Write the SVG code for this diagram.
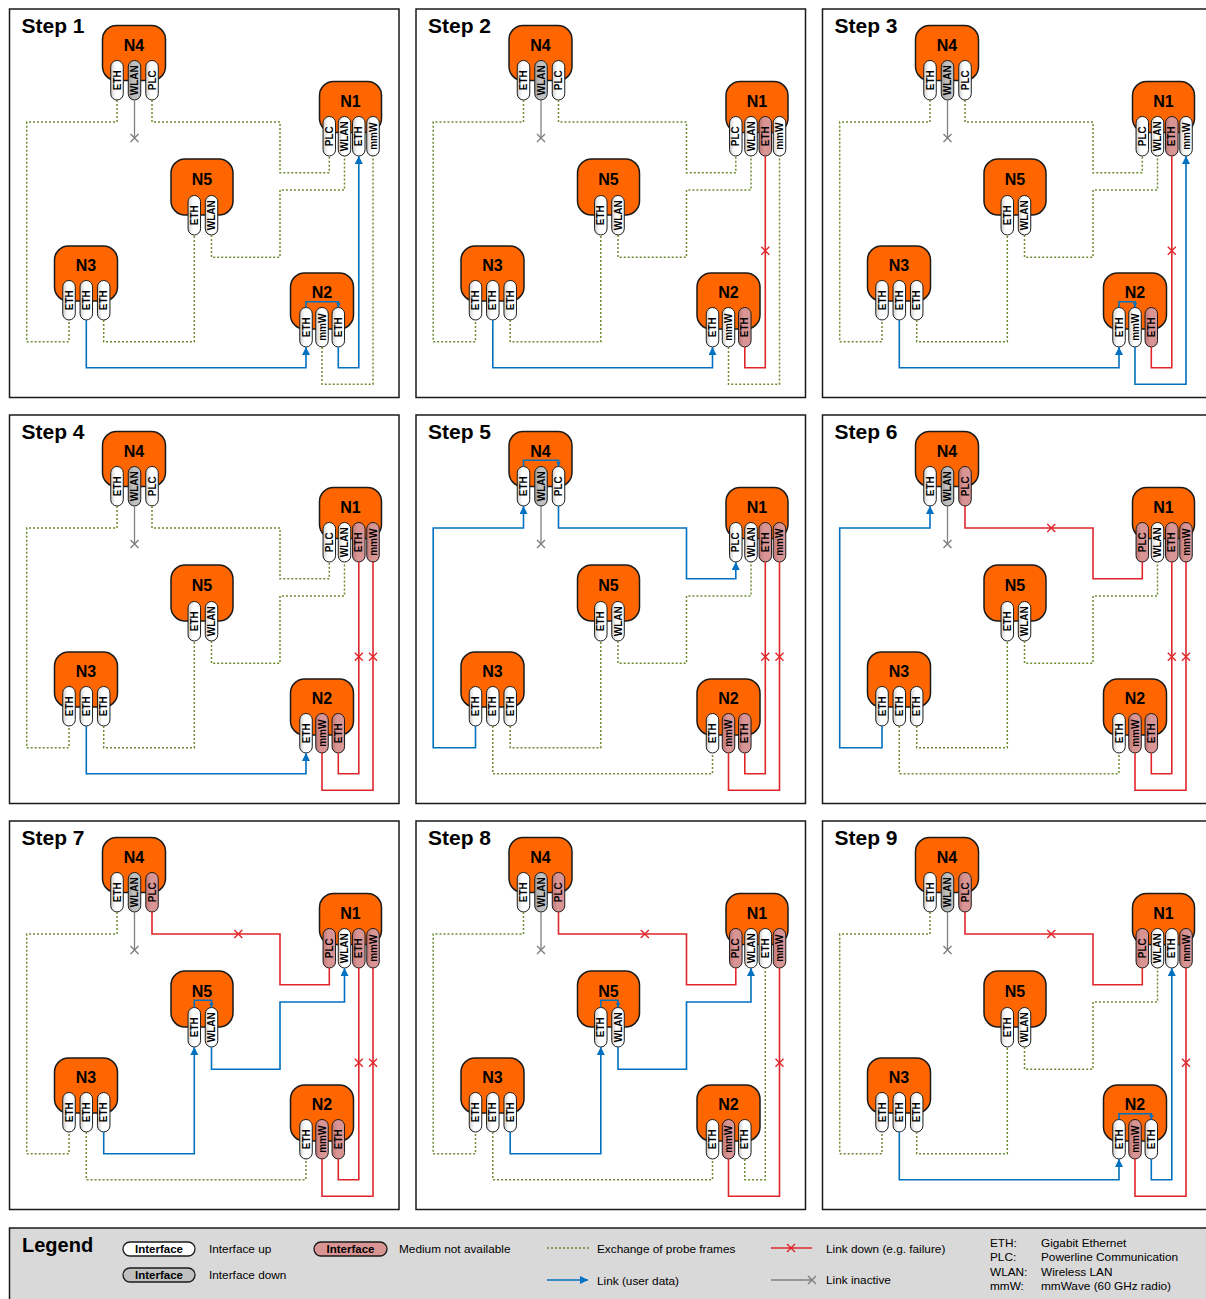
<svg xmlns="http://www.w3.org/2000/svg" xmlns:xlink="http://www.w3.org/1999/xlink" width="1206" height="1299" viewBox="0 0 1206 1299">
<style>
.pn{fill:#fff;stroke:#1a1a1a;stroke-width:1.5}
.st{font:bold 21px "Liberation Sans",Arial,sans-serif;fill:#000}
.bx{fill:#FF6600;stroke:#1a1a1a;stroke-width:1.5}
.nl{font:bold 16px "Liberation Sans",Arial,sans-serif;text-anchor:middle;fill:#000}
.pw{fill:url(#gW);stroke:#1a1a1a;stroke-width:1}
.pp{fill:url(#gP);stroke:#1a1a1a;stroke-width:1}
.pg{fill:url(#gG);stroke:#1a1a1a;stroke-width:1}
.pt{font:bold 10px "Liberation Sans",Arial,sans-serif;text-anchor:middle;fill:#000}
.dot{fill:none;stroke:#6E8B30;stroke-width:1.5;stroke-dasharray:2 2}
.blu{fill:none;stroke:#0070C0;stroke-width:1.6}
.red{fill:none;stroke:#E0262B;stroke-width:1.6}
.gry{fill:none;stroke:#7F7F7F;stroke-width:1.3}
.xr{stroke:#E0262B;stroke-width:1.4;fill:none}
.xg{stroke:#7F7F7F;stroke-width:1.4;fill:none}
.lg{fill:#D9D9D9;stroke:#1a1a1a;stroke-width:1.5}
.lt{font:11.8px "Liberation Sans",Arial,sans-serif;fill:#000}
.lb{font:bold 11.5px "Liberation Sans",Arial,sans-serif;text-anchor:middle;fill:#000}
.lp{stroke:#1a1a1a;stroke-width:1.3}
</style>
<defs>
<linearGradient id="gW" x1="0" y1="0" x2="1" y2="0"><stop offset="0" stop-color="#cfcfcf"/><stop offset="0.4" stop-color="#fff"/><stop offset="1" stop-color="#fff"/></linearGradient>
<linearGradient id="gP" x1="0" y1="0" x2="1" y2="0"><stop offset="0" stop-color="#bb7876"/><stop offset="0.4" stop-color="#D99594"/><stop offset="1" stop-color="#D99594"/></linearGradient>
<linearGradient id="gG" x1="0" y1="0" x2="1" y2="0"><stop offset="0" stop-color="#9d9d9d"/><stop offset="0.4" stop-color="#c0c0c0"/><stop offset="1" stop-color="#c0c0c0"/></linearGradient>
<marker id="ab" markerUnits="userSpaceOnUse" markerWidth="9" markerHeight="9" refX="8" refY="4" orient="auto"><path d="M0,0 L8,4 L0,8 z" fill="#0070C0"/></marker>
<marker id="as" markerUnits="userSpaceOnUse" markerWidth="6" markerHeight="6" refX="5" refY="2.5" orient="auto"><path d="M0,0 L5,2.5 L0,5 z" fill="#0070C0"/></marker>
<path id="xx" d="M-4,-4 L4,4 M-4,4 L4,-4"/>
</defs>

<!-- STEP 1 -->
<g id="step1">
<rect class="pn" x="9.5" y="9" width="389.5" height="388.5"/>
<text class="st" x="21.5" y="33">Step 1</text>
<g id="s1-n4"><rect class="bx" x="102.5" y="25.5" width="63" height="55" rx="14"/><text class="nl" x="134" y="50.5">N4</text>
<rect class="pw" x="110.75" y="60.5" width="12.5" height="39.5" rx="6.25"/><text class="pt" transform="translate(117,80.25) rotate(-90)" y="3.6">ETH</text>
<rect class="pg" x="128.25" y="60.5" width="12.5" height="39.5" rx="6.25"/><text class="pt" transform="translate(134.5,80.25) rotate(-90)" y="3.6">WLAN</text>
<rect class="pw" x="145.75" y="60.5" width="12.5" height="39.5" rx="6.25"/><text class="pt" transform="translate(152,80.25) rotate(-90)" y="3.6">PLC</text></g>
<g id="s1-n1"><rect class="bx" x="319.5" y="81.5" width="62" height="51" rx="14"/><text class="nl" x="350.5" y="106.5">N1</text>
<rect class="pw" x="323.05" y="116.5" width="12.5" height="39.5" rx="6.25"/><text class="pt" transform="translate(329.3,136.25) rotate(-90)" y="3.6">PLC</text>
<rect class="pw" x="338.25" y="116.5" width="12.5" height="39.5" rx="6.25"/><text class="pt" transform="translate(344.5,136.25) rotate(-90)" y="3.6">WLAN</text>
<rect class="pw" x="352.55" y="116.5" width="12.5" height="39.5" rx="6.25"/><text class="pt" transform="translate(358.8,136.25) rotate(-90)" y="3.6">ETH</text>
<rect class="pw" x="366.75" y="116.5" width="12.5" height="39.5" rx="6.25"/><text class="pt" transform="translate(373,136.25) rotate(-90)" y="3.6">mmW</text></g>
<g id="s1-n5"><rect class="bx" x="171" y="159" width="62" height="56" rx="14"/><text class="nl" x="202" y="185">N5</text>
<rect class="pw" x="188.05" y="195.5" width="12.5" height="39.5" rx="6.25"/><text class="pt" transform="translate(194.3,215.25) rotate(-90)" y="3.6">ETH</text>
<rect class="pw" x="205.25" y="195.5" width="12.5" height="39.5" rx="6.25"/><text class="pt" transform="translate(211.5,215.25) rotate(-90)" y="3.6">WLAN</text></g>
<g id="s1-n3"><rect class="bx" x="54.5" y="246" width="63" height="55" rx="14"/><text class="nl" x="86" y="271">N3</text>
<rect class="pw" x="62.75" y="280.5" width="12.5" height="39.5" rx="6.25"/><text class="pt" transform="translate(69,300.25) rotate(-90)" y="3.6">ETH</text>
<rect class="pw" x="80.05" y="280.5" width="12.5" height="39.5" rx="6.25"/><text class="pt" transform="translate(86.3,300.25) rotate(-90)" y="3.6">ETH</text>
<rect class="pw" x="97.45" y="280.5" width="12.5" height="39.5" rx="6.25"/><text class="pt" transform="translate(103.7,300.25) rotate(-90)" y="3.6">ETH</text></g>
<g id="s1-n2"><rect class="bx" x="290.5" y="273" width="63" height="56" rx="14"/><text class="nl" x="322" y="298">N2</text>
<rect class="pw" x="299.75" y="307.5" width="12.5" height="39.5" rx="6.25"/><text class="pt" transform="translate(306,327.25) rotate(-90)" y="3.6">ETH</text>
<rect class="pw" x="315.75" y="307.5" width="12.5" height="39.5" rx="6.25"/><text class="pt" transform="translate(322,327.25) rotate(-90)" y="3.6">mmW</text>
<rect class="pw" x="332.05" y="307.5" width="12.5" height="39.5" rx="6.25"/><text class="pt" transform="translate(338.3,327.25) rotate(-90)" y="3.6">ETH</text></g>
<g id="s1-links">
<path class="dot" d="M117,100 V122 H26.7 V341.7 H69 V320"/>
<path class="dot" d="M152,100 V122 H280 V172.7 H329.3 V156"/>
<path class="dot" d="M103.7,320 V341.7 H194.3 V235"/>
<path class="dot" d="M211.5,235 V257.3 H280 V190 H344.5 V156"/>
<path class="blu" d="M86.3,320 V367.7 H306 V347" marker-end="url(#ab)"/>
<path class="blu" d="M338.3,347 V367.7 H358.8 V156" marker-end="url(#ab)"/>
<path class="dot" d="M322,347 V384.3 H373 V156"/>
<path class="gry" d="M134.5,100 V138"/><use href="#xx" class="xg" x="134.5" y="138"/>
<path class="blu" d="M306,307.5 V301.7 H338.3 V307.5" marker-end="url(#as)"/>
</g>
</g>

<!-- STEP 2 -->
<g id="step2" transform="translate(406.5,0)">
<rect class="pn" x="9.5" y="9" width="389.5" height="388.5"/>
<text class="st" x="21.5" y="33">Step 2</text>
<g id="s2-n4"><rect class="bx" x="102.5" y="25.5" width="63" height="55" rx="14"/><text class="nl" x="134" y="50.5">N4</text>
<rect class="pw" x="110.75" y="60.5" width="12.5" height="39.5" rx="6.25"/><text class="pt" transform="translate(117,80.25) rotate(-90)" y="3.6">ETH</text>
<rect class="pg" x="128.25" y="60.5" width="12.5" height="39.5" rx="6.25"/><text class="pt" transform="translate(134.5,80.25) rotate(-90)" y="3.6">WLAN</text>
<rect class="pw" x="145.75" y="60.5" width="12.5" height="39.5" rx="6.25"/><text class="pt" transform="translate(152,80.25) rotate(-90)" y="3.6">PLC</text></g>
<g id="s2-n1"><rect class="bx" x="319.5" y="81.5" width="62" height="51" rx="14"/><text class="nl" x="350.5" y="106.5">N1</text>
<rect class="pw" x="323.05" y="116.5" width="12.5" height="39.5" rx="6.25"/><text class="pt" transform="translate(329.3,136.25) rotate(-90)" y="3.6">PLC</text>
<rect class="pw" x="338.25" y="116.5" width="12.5" height="39.5" rx="6.25"/><text class="pt" transform="translate(344.5,136.25) rotate(-90)" y="3.6">WLAN</text>
<rect class="pp" x="352.55" y="116.5" width="12.5" height="39.5" rx="6.25"/><text class="pt" transform="translate(358.8,136.25) rotate(-90)" y="3.6">ETH</text>
<rect class="pw" x="366.75" y="116.5" width="12.5" height="39.5" rx="6.25"/><text class="pt" transform="translate(373,136.25) rotate(-90)" y="3.6">mmW</text></g>
<g id="s2-n5"><rect class="bx" x="171" y="159" width="62" height="56" rx="14"/><text class="nl" x="202" y="185">N5</text>
<rect class="pw" x="188.05" y="195.5" width="12.5" height="39.5" rx="6.25"/><text class="pt" transform="translate(194.3,215.25) rotate(-90)" y="3.6">ETH</text>
<rect class="pw" x="205.25" y="195.5" width="12.5" height="39.5" rx="6.25"/><text class="pt" transform="translate(211.5,215.25) rotate(-90)" y="3.6">WLAN</text></g>
<g id="s2-n3"><rect class="bx" x="54.5" y="246" width="63" height="55" rx="14"/><text class="nl" x="86" y="271">N3</text>
<rect class="pw" x="62.75" y="280.5" width="12.5" height="39.5" rx="6.25"/><text class="pt" transform="translate(69,300.25) rotate(-90)" y="3.6">ETH</text>
<rect class="pw" x="80.05" y="280.5" width="12.5" height="39.5" rx="6.25"/><text class="pt" transform="translate(86.3,300.25) rotate(-90)" y="3.6">ETH</text>
<rect class="pw" x="97.45" y="280.5" width="12.5" height="39.5" rx="6.25"/><text class="pt" transform="translate(103.7,300.25) rotate(-90)" y="3.6">ETH</text></g>
<g id="s2-n2"><rect class="bx" x="290.5" y="273" width="63" height="56" rx="14"/><text class="nl" x="322" y="298">N2</text>
<rect class="pw" x="299.75" y="307.5" width="12.5" height="39.5" rx="6.25"/><text class="pt" transform="translate(306,327.25) rotate(-90)" y="3.6">ETH</text>
<rect class="pw" x="315.75" y="307.5" width="12.5" height="39.5" rx="6.25"/><text class="pt" transform="translate(322,327.25) rotate(-90)" y="3.6">mmW</text>
<rect class="pp" x="332.05" y="307.5" width="12.5" height="39.5" rx="6.25"/><text class="pt" transform="translate(338.3,327.25) rotate(-90)" y="3.6">ETH</text></g>
<g id="s2-links">
<path class="dot" d="M117,100 V122 H26.7 V341.7 H69 V320"/>
<path class="dot" d="M152,100 V122 H280 V172.7 H329.3 V156"/>
<path class="dot" d="M103.7,320 V341.7 H194.3 V235"/>
<path class="dot" d="M211.5,235 V257.3 H280 V190 H344.5 V156"/>
<path class="blu" d="M86.3,320 V367.7 H306 V347" marker-end="url(#ab)"/>
<path class="red" d="M338.3,347 V367.7 H358.8 V156"/><use href="#xx" class="xr" x="358.8" y="250.7"/>
<path class="dot" d="M322,347 V384.3 H373 V156"/>
<path class="gry" d="M134.5,100 V138"/><use href="#xx" class="xg" x="134.5" y="138"/>
</g>
</g>

<!-- STEP 3 -->
<g id="step3" transform="translate(813,0)">
<rect class="pn" x="9.5" y="9" width="389.5" height="388.5"/>
<text class="st" x="21.5" y="33">Step 3</text>
<g id="s3-n4"><rect class="bx" x="102.5" y="25.5" width="63" height="55" rx="14"/><text class="nl" x="134" y="50.5">N4</text>
<rect class="pw" x="110.75" y="60.5" width="12.5" height="39.5" rx="6.25"/><text class="pt" transform="translate(117,80.25) rotate(-90)" y="3.6">ETH</text>
<rect class="pg" x="128.25" y="60.5" width="12.5" height="39.5" rx="6.25"/><text class="pt" transform="translate(134.5,80.25) rotate(-90)" y="3.6">WLAN</text>
<rect class="pw" x="145.75" y="60.5" width="12.5" height="39.5" rx="6.25"/><text class="pt" transform="translate(152,80.25) rotate(-90)" y="3.6">PLC</text></g>
<g id="s3-n1"><rect class="bx" x="319.5" y="81.5" width="62" height="51" rx="14"/><text class="nl" x="350.5" y="106.5">N1</text>
<rect class="pw" x="323.05" y="116.5" width="12.5" height="39.5" rx="6.25"/><text class="pt" transform="translate(329.3,136.25) rotate(-90)" y="3.6">PLC</text>
<rect class="pw" x="338.25" y="116.5" width="12.5" height="39.5" rx="6.25"/><text class="pt" transform="translate(344.5,136.25) rotate(-90)" y="3.6">WLAN</text>
<rect class="pp" x="352.55" y="116.5" width="12.5" height="39.5" rx="6.25"/><text class="pt" transform="translate(358.8,136.25) rotate(-90)" y="3.6">ETH</text>
<rect class="pw" x="366.75" y="116.5" width="12.5" height="39.5" rx="6.25"/><text class="pt" transform="translate(373,136.25) rotate(-90)" y="3.6">mmW</text></g>
<g id="s3-n5"><rect class="bx" x="171" y="159" width="62" height="56" rx="14"/><text class="nl" x="202" y="185">N5</text>
<rect class="pw" x="188.05" y="195.5" width="12.5" height="39.5" rx="6.25"/><text class="pt" transform="translate(194.3,215.25) rotate(-90)" y="3.6">ETH</text>
<rect class="pw" x="205.25" y="195.5" width="12.5" height="39.5" rx="6.25"/><text class="pt" transform="translate(211.5,215.25) rotate(-90)" y="3.6">WLAN</text></g>
<g id="s3-n3"><rect class="bx" x="54.5" y="246" width="63" height="55" rx="14"/><text class="nl" x="86" y="271">N3</text>
<rect class="pw" x="62.75" y="280.5" width="12.5" height="39.5" rx="6.25"/><text class="pt" transform="translate(69,300.25) rotate(-90)" y="3.6">ETH</text>
<rect class="pw" x="80.05" y="280.5" width="12.5" height="39.5" rx="6.25"/><text class="pt" transform="translate(86.3,300.25) rotate(-90)" y="3.6">ETH</text>
<rect class="pw" x="97.45" y="280.5" width="12.5" height="39.5" rx="6.25"/><text class="pt" transform="translate(103.7,300.25) rotate(-90)" y="3.6">ETH</text></g>
<g id="s3-n2"><rect class="bx" x="290.5" y="273" width="63" height="56" rx="14"/><text class="nl" x="322" y="298">N2</text>
<rect class="pw" x="299.75" y="307.5" width="12.5" height="39.5" rx="6.25"/><text class="pt" transform="translate(306,327.25) rotate(-90)" y="3.6">ETH</text>
<rect class="pw" x="315.75" y="307.5" width="12.5" height="39.5" rx="6.25"/><text class="pt" transform="translate(322,327.25) rotate(-90)" y="3.6">mmW</text>
<rect class="pp" x="332.05" y="307.5" width="12.5" height="39.5" rx="6.25"/><text class="pt" transform="translate(338.3,327.25) rotate(-90)" y="3.6">ETH</text></g>
<g id="s3-links">
<path class="dot" d="M117,100 V122 H26.7 V341.7 H69 V320"/>
<path class="dot" d="M152,100 V122 H280 V172.7 H329.3 V156"/>
<path class="dot" d="M103.7,320 V341.7 H194.3 V235"/>
<path class="dot" d="M211.5,235 V257.3 H280 V190 H344.5 V156"/>
<path class="blu" d="M86.3,320 V367.7 H306 V347" marker-end="url(#ab)"/>
<path class="red" d="M338.3,347 V367.7 H358.8 V156"/><use href="#xx" class="xr" x="358.8" y="250.7"/>
<path class="blu" d="M322,347 V384.3 H373 V156" marker-end="url(#ab)"/>
<path class="gry" d="M134.5,100 V138"/><use href="#xx" class="xg" x="134.5" y="138"/>
<path class="blu" d="M306,307.5 V301.7 H322 V307.5" marker-end="url(#as)"/>
</g>
</g>

<!-- STEP 4 -->
<g id="step4" transform="translate(0,406)">
<rect class="pn" x="9.5" y="9" width="389.5" height="388.5"/>
<text class="st" x="21.5" y="33">Step 4</text>
<g id="s4-n4"><rect class="bx" x="102.5" y="25.5" width="63" height="55" rx="14"/><text class="nl" x="134" y="50.5">N4</text>
<rect class="pw" x="110.75" y="60.5" width="12.5" height="39.5" rx="6.25"/><text class="pt" transform="translate(117,80.25) rotate(-90)" y="3.6">ETH</text>
<rect class="pg" x="128.25" y="60.5" width="12.5" height="39.5" rx="6.25"/><text class="pt" transform="translate(134.5,80.25) rotate(-90)" y="3.6">WLAN</text>
<rect class="pw" x="145.75" y="60.5" width="12.5" height="39.5" rx="6.25"/><text class="pt" transform="translate(152,80.25) rotate(-90)" y="3.6">PLC</text></g>
<g id="s4-n1"><rect class="bx" x="319.5" y="81.5" width="62" height="51" rx="14"/><text class="nl" x="350.5" y="106.5">N1</text>
<rect class="pw" x="323.05" y="116.5" width="12.5" height="39.5" rx="6.25"/><text class="pt" transform="translate(329.3,136.25) rotate(-90)" y="3.6">PLC</text>
<rect class="pw" x="338.25" y="116.5" width="12.5" height="39.5" rx="6.25"/><text class="pt" transform="translate(344.5,136.25) rotate(-90)" y="3.6">WLAN</text>
<rect class="pp" x="352.55" y="116.5" width="12.5" height="39.5" rx="6.25"/><text class="pt" transform="translate(358.8,136.25) rotate(-90)" y="3.6">ETH</text>
<rect class="pp" x="366.75" y="116.5" width="12.5" height="39.5" rx="6.25"/><text class="pt" transform="translate(373,136.25) rotate(-90)" y="3.6">mmW</text></g>
<g id="s4-n5"><rect class="bx" x="171" y="159" width="62" height="56" rx="14"/><text class="nl" x="202" y="185">N5</text>
<rect class="pw" x="188.05" y="195.5" width="12.5" height="39.5" rx="6.25"/><text class="pt" transform="translate(194.3,215.25) rotate(-90)" y="3.6">ETH</text>
<rect class="pw" x="205.25" y="195.5" width="12.5" height="39.5" rx="6.25"/><text class="pt" transform="translate(211.5,215.25) rotate(-90)" y="3.6">WLAN</text></g>
<g id="s4-n3"><rect class="bx" x="54.5" y="246" width="63" height="55" rx="14"/><text class="nl" x="86" y="271">N3</text>
<rect class="pw" x="62.75" y="280.5" width="12.5" height="39.5" rx="6.25"/><text class="pt" transform="translate(69,300.25) rotate(-90)" y="3.6">ETH</text>
<rect class="pw" x="80.05" y="280.5" width="12.5" height="39.5" rx="6.25"/><text class="pt" transform="translate(86.3,300.25) rotate(-90)" y="3.6">ETH</text>
<rect class="pw" x="97.45" y="280.5" width="12.5" height="39.5" rx="6.25"/><text class="pt" transform="translate(103.7,300.25) rotate(-90)" y="3.6">ETH</text></g>
<g id="s4-n2"><rect class="bx" x="290.5" y="273" width="63" height="56" rx="14"/><text class="nl" x="322" y="298">N2</text>
<rect class="pw" x="299.75" y="307.5" width="12.5" height="39.5" rx="6.25"/><text class="pt" transform="translate(306,327.25) rotate(-90)" y="3.6">ETH</text>
<rect class="pp" x="315.75" y="307.5" width="12.5" height="39.5" rx="6.25"/><text class="pt" transform="translate(322,327.25) rotate(-90)" y="3.6">mmW</text>
<rect class="pp" x="332.05" y="307.5" width="12.5" height="39.5" rx="6.25"/><text class="pt" transform="translate(338.3,327.25) rotate(-90)" y="3.6">ETH</text></g>
<g id="s4-links">
<path class="dot" d="M117,100 V122 H26.7 V341.7 H69 V320"/>
<path class="dot" d="M152,100 V122 H280 V172.7 H329.3 V156"/>
<path class="dot" d="M103.7,320 V341.7 H194.3 V235"/>
<path class="dot" d="M211.5,235 V257.3 H280 V190 H344.5 V156"/>
<path class="blu" d="M86.3,320 V367.7 H306 V347" marker-end="url(#ab)"/>
<path class="red" d="M338.3,347 V367.7 H358.8 V156"/><use href="#xx" class="xr" x="358.8" y="250.7"/>
<path class="red" d="M322,347 V384.3 H373 V156"/><use href="#xx" class="xr" x="373" y="250.7"/>
<path class="gry" d="M134.5,100 V138"/><use href="#xx" class="xg" x="134.5" y="138"/>
</g>
</g>

<!-- STEP 5 -->
<g id="step5" transform="translate(406.5,406)">
<rect class="pn" x="9.5" y="9" width="389.5" height="388.5"/>
<text class="st" x="21.5" y="33">Step 5</text>
<g id="s5-n4"><rect class="bx" x="102.5" y="25.5" width="63" height="55" rx="14"/><text class="nl" x="134" y="50.5">N4</text>
<rect class="pw" x="110.75" y="60.5" width="12.5" height="39.5" rx="6.25"/><text class="pt" transform="translate(117,80.25) rotate(-90)" y="3.6">ETH</text>
<rect class="pg" x="128.25" y="60.5" width="12.5" height="39.5" rx="6.25"/><text class="pt" transform="translate(134.5,80.25) rotate(-90)" y="3.6">WLAN</text>
<rect class="pw" x="145.75" y="60.5" width="12.5" height="39.5" rx="6.25"/><text class="pt" transform="translate(152,80.25) rotate(-90)" y="3.6">PLC</text></g>
<g id="s5-n1"><rect class="bx" x="319.5" y="81.5" width="62" height="51" rx="14"/><text class="nl" x="350.5" y="106.5">N1</text>
<rect class="pw" x="323.05" y="116.5" width="12.5" height="39.5" rx="6.25"/><text class="pt" transform="translate(329.3,136.25) rotate(-90)" y="3.6">PLC</text>
<rect class="pw" x="338.25" y="116.5" width="12.5" height="39.5" rx="6.25"/><text class="pt" transform="translate(344.5,136.25) rotate(-90)" y="3.6">WLAN</text>
<rect class="pp" x="352.55" y="116.5" width="12.5" height="39.5" rx="6.25"/><text class="pt" transform="translate(358.8,136.25) rotate(-90)" y="3.6">ETH</text>
<rect class="pp" x="366.75" y="116.5" width="12.5" height="39.5" rx="6.25"/><text class="pt" transform="translate(373,136.25) rotate(-90)" y="3.6">mmW</text></g>
<g id="s5-n5"><rect class="bx" x="171" y="159" width="62" height="56" rx="14"/><text class="nl" x="202" y="185">N5</text>
<rect class="pw" x="188.05" y="195.5" width="12.5" height="39.5" rx="6.25"/><text class="pt" transform="translate(194.3,215.25) rotate(-90)" y="3.6">ETH</text>
<rect class="pw" x="205.25" y="195.5" width="12.5" height="39.5" rx="6.25"/><text class="pt" transform="translate(211.5,215.25) rotate(-90)" y="3.6">WLAN</text></g>
<g id="s5-n3"><rect class="bx" x="54.5" y="246" width="63" height="55" rx="14"/><text class="nl" x="86" y="271">N3</text>
<rect class="pw" x="62.75" y="280.5" width="12.5" height="39.5" rx="6.25"/><text class="pt" transform="translate(69,300.25) rotate(-90)" y="3.6">ETH</text>
<rect class="pw" x="80.05" y="280.5" width="12.5" height="39.5" rx="6.25"/><text class="pt" transform="translate(86.3,300.25) rotate(-90)" y="3.6">ETH</text>
<rect class="pw" x="97.45" y="280.5" width="12.5" height="39.5" rx="6.25"/><text class="pt" transform="translate(103.7,300.25) rotate(-90)" y="3.6">ETH</text></g>
<g id="s5-n2"><rect class="bx" x="290.5" y="273" width="63" height="56" rx="14"/><text class="nl" x="322" y="298">N2</text>
<rect class="pw" x="299.75" y="307.5" width="12.5" height="39.5" rx="6.25"/><text class="pt" transform="translate(306,327.25) rotate(-90)" y="3.6">ETH</text>
<rect class="pp" x="315.75" y="307.5" width="12.5" height="39.5" rx="6.25"/><text class="pt" transform="translate(322,327.25) rotate(-90)" y="3.6">mmW</text>
<rect class="pp" x="332.05" y="307.5" width="12.5" height="39.5" rx="6.25"/><text class="pt" transform="translate(338.3,327.25) rotate(-90)" y="3.6">ETH</text></g>
<g id="s5-links">
<path class="blu" d="M69,320 V341.7 H26.7 V122 H117 V100" marker-end="url(#ab)"/>
<path class="blu" d="M117,60.5 V54.3 H152 V60.5" marker-end="url(#as)"/>
<path class="blu" d="M152,100 V122 H280 V172.7 H329.3 V156" marker-end="url(#ab)"/>
<path class="dot" d="M103.7,320 V341.7 H194.3 V235"/>
<path class="dot" d="M211.5,235 V257.3 H280 V190 H344.5 V156"/>
<path class="dot" d="M86.3,320 V367.7 H306 V347"/>
<path class="red" d="M338.3,347 V367.7 H358.8 V156"/><use href="#xx" class="xr" x="358.8" y="250.7"/>
<path class="red" d="M322,347 V384.3 H373 V156"/><use href="#xx" class="xr" x="373" y="250.7"/>
<path class="gry" d="M134.5,100 V138"/><use href="#xx" class="xg" x="134.5" y="138"/>
</g>
</g>

<!-- STEP 6 -->
<g id="step6" transform="translate(813,406)">
<rect class="pn" x="9.5" y="9" width="389.5" height="388.5"/>
<text class="st" x="21.5" y="33">Step 6</text>
<g id="s6-n4"><rect class="bx" x="102.5" y="25.5" width="63" height="55" rx="14"/><text class="nl" x="134" y="50.5">N4</text>
<rect class="pw" x="110.75" y="60.5" width="12.5" height="39.5" rx="6.25"/><text class="pt" transform="translate(117,80.25) rotate(-90)" y="3.6">ETH</text>
<rect class="pg" x="128.25" y="60.5" width="12.5" height="39.5" rx="6.25"/><text class="pt" transform="translate(134.5,80.25) rotate(-90)" y="3.6">WLAN</text>
<rect class="pp" x="145.75" y="60.5" width="12.5" height="39.5" rx="6.25"/><text class="pt" transform="translate(152,80.25) rotate(-90)" y="3.6">PLC</text></g>
<g id="s6-n1"><rect class="bx" x="319.5" y="81.5" width="62" height="51" rx="14"/><text class="nl" x="350.5" y="106.5">N1</text>
<rect class="pp" x="323.05" y="116.5" width="12.5" height="39.5" rx="6.25"/><text class="pt" transform="translate(329.3,136.25) rotate(-90)" y="3.6">PLC</text>
<rect class="pw" x="338.25" y="116.5" width="12.5" height="39.5" rx="6.25"/><text class="pt" transform="translate(344.5,136.25) rotate(-90)" y="3.6">WLAN</text>
<rect class="pp" x="352.55" y="116.5" width="12.5" height="39.5" rx="6.25"/><text class="pt" transform="translate(358.8,136.25) rotate(-90)" y="3.6">ETH</text>
<rect class="pp" x="366.75" y="116.5" width="12.5" height="39.5" rx="6.25"/><text class="pt" transform="translate(373,136.25) rotate(-90)" y="3.6">mmW</text></g>
<g id="s6-n5"><rect class="bx" x="171" y="159" width="62" height="56" rx="14"/><text class="nl" x="202" y="185">N5</text>
<rect class="pw" x="188.05" y="195.5" width="12.5" height="39.5" rx="6.25"/><text class="pt" transform="translate(194.3,215.25) rotate(-90)" y="3.6">ETH</text>
<rect class="pw" x="205.25" y="195.5" width="12.5" height="39.5" rx="6.25"/><text class="pt" transform="translate(211.5,215.25) rotate(-90)" y="3.6">WLAN</text></g>
<g id="s6-n3"><rect class="bx" x="54.5" y="246" width="63" height="55" rx="14"/><text class="nl" x="86" y="271">N3</text>
<rect class="pw" x="62.75" y="280.5" width="12.5" height="39.5" rx="6.25"/><text class="pt" transform="translate(69,300.25) rotate(-90)" y="3.6">ETH</text>
<rect class="pw" x="80.05" y="280.5" width="12.5" height="39.5" rx="6.25"/><text class="pt" transform="translate(86.3,300.25) rotate(-90)" y="3.6">ETH</text>
<rect class="pw" x="97.45" y="280.5" width="12.5" height="39.5" rx="6.25"/><text class="pt" transform="translate(103.7,300.25) rotate(-90)" y="3.6">ETH</text></g>
<g id="s6-n2"><rect class="bx" x="290.5" y="273" width="63" height="56" rx="14"/><text class="nl" x="322" y="298">N2</text>
<rect class="pw" x="299.75" y="307.5" width="12.5" height="39.5" rx="6.25"/><text class="pt" transform="translate(306,327.25) rotate(-90)" y="3.6">ETH</text>
<rect class="pp" x="315.75" y="307.5" width="12.5" height="39.5" rx="6.25"/><text class="pt" transform="translate(322,327.25) rotate(-90)" y="3.6">mmW</text>
<rect class="pp" x="332.05" y="307.5" width="12.5" height="39.5" rx="6.25"/><text class="pt" transform="translate(338.3,327.25) rotate(-90)" y="3.6">ETH</text></g>
<g id="s6-links">
<path class="blu" d="M69,320 V341.7 H26.7 V122 H117 V100" marker-end="url(#ab)"/>
<path class="red" d="M152,100 V122 H280 V172.7 H329.3 V156"/><use href="#xx" class="xr" x="238.3" y="122"/>
<path class="dot" d="M103.7,320 V341.7 H194.3 V235"/>
<path class="dot" d="M211.5,235 V257.3 H280 V190 H344.5 V156"/>
<path class="dot" d="M86.3,320 V367.7 H306 V347"/>
<path class="red" d="M338.3,347 V367.7 H358.8 V156"/><use href="#xx" class="xr" x="358.8" y="250.7"/>
<path class="red" d="M322,347 V384.3 H373 V156"/><use href="#xx" class="xr" x="373" y="250.7"/>
<path class="gry" d="M134.5,100 V138"/><use href="#xx" class="xg" x="134.5" y="138"/>
</g>
</g>

<!-- STEP 7 -->
<g id="step7" transform="translate(0,812)">
<rect class="pn" x="9.5" y="9" width="389.5" height="388.5"/>
<text class="st" x="21.5" y="33">Step 7</text>
<g id="s7-n4"><rect class="bx" x="102.5" y="25.5" width="63" height="55" rx="14"/><text class="nl" x="134" y="50.5">N4</text>
<rect class="pw" x="110.75" y="60.5" width="12.5" height="39.5" rx="6.25"/><text class="pt" transform="translate(117,80.25) rotate(-90)" y="3.6">ETH</text>
<rect class="pg" x="128.25" y="60.5" width="12.5" height="39.5" rx="6.25"/><text class="pt" transform="translate(134.5,80.25) rotate(-90)" y="3.6">WLAN</text>
<rect class="pp" x="145.75" y="60.5" width="12.5" height="39.5" rx="6.25"/><text class="pt" transform="translate(152,80.25) rotate(-90)" y="3.6">PLC</text></g>
<g id="s7-n1"><rect class="bx" x="319.5" y="81.5" width="62" height="51" rx="14"/><text class="nl" x="350.5" y="106.5">N1</text>
<rect class="pp" x="323.05" y="116.5" width="12.5" height="39.5" rx="6.25"/><text class="pt" transform="translate(329.3,136.25) rotate(-90)" y="3.6">PLC</text>
<rect class="pw" x="338.25" y="116.5" width="12.5" height="39.5" rx="6.25"/><text class="pt" transform="translate(344.5,136.25) rotate(-90)" y="3.6">WLAN</text>
<rect class="pp" x="352.55" y="116.5" width="12.5" height="39.5" rx="6.25"/><text class="pt" transform="translate(358.8,136.25) rotate(-90)" y="3.6">ETH</text>
<rect class="pp" x="366.75" y="116.5" width="12.5" height="39.5" rx="6.25"/><text class="pt" transform="translate(373,136.25) rotate(-90)" y="3.6">mmW</text></g>
<g id="s7-n5"><rect class="bx" x="171" y="159" width="62" height="56" rx="14"/><text class="nl" x="202" y="185">N5</text>
<rect class="pw" x="188.05" y="195.5" width="12.5" height="39.5" rx="6.25"/><text class="pt" transform="translate(194.3,215.25) rotate(-90)" y="3.6">ETH</text>
<rect class="pw" x="205.25" y="195.5" width="12.5" height="39.5" rx="6.25"/><text class="pt" transform="translate(211.5,215.25) rotate(-90)" y="3.6">WLAN</text></g>
<g id="s7-n3"><rect class="bx" x="54.5" y="246" width="63" height="55" rx="14"/><text class="nl" x="86" y="271">N3</text>
<rect class="pw" x="62.75" y="280.5" width="12.5" height="39.5" rx="6.25"/><text class="pt" transform="translate(69,300.25) rotate(-90)" y="3.6">ETH</text>
<rect class="pw" x="80.05" y="280.5" width="12.5" height="39.5" rx="6.25"/><text class="pt" transform="translate(86.3,300.25) rotate(-90)" y="3.6">ETH</text>
<rect class="pw" x="97.45" y="280.5" width="12.5" height="39.5" rx="6.25"/><text class="pt" transform="translate(103.7,300.25) rotate(-90)" y="3.6">ETH</text></g>
<g id="s7-n2"><rect class="bx" x="290.5" y="273" width="63" height="56" rx="14"/><text class="nl" x="322" y="298">N2</text>
<rect class="pw" x="299.75" y="307.5" width="12.5" height="39.5" rx="6.25"/><text class="pt" transform="translate(306,327.25) rotate(-90)" y="3.6">ETH</text>
<rect class="pp" x="315.75" y="307.5" width="12.5" height="39.5" rx="6.25"/><text class="pt" transform="translate(322,327.25) rotate(-90)" y="3.6">mmW</text>
<rect class="pp" x="332.05" y="307.5" width="12.5" height="39.5" rx="6.25"/><text class="pt" transform="translate(338.3,327.25) rotate(-90)" y="3.6">ETH</text></g>
<g id="s7-links">
<path class="dot" d="M117,100 V122 H26.7 V341.7 H69 V320"/>
<path class="red" d="M152,100 V122 H280 V172.7 H329.3 V156"/><use href="#xx" class="xr" x="238.3" y="122"/>
<path class="blu" d="M103.7,320 V341.7 H194.3 V235" marker-end="url(#ab)"/>
<path class="blu" d="M194.3,195.5 V188.3 H211.5 V195.5" marker-end="url(#as)"/>
<path class="blu" d="M211.5,235 V257.3 H280 V190 H344.5 V156" marker-end="url(#ab)"/>
<path class="dot" d="M86.3,320 V367.7 H306 V347"/>
<path class="red" d="M338.3,347 V367.7 H358.8 V156"/><use href="#xx" class="xr" x="358.8" y="250.7"/>
<path class="red" d="M322,347 V384.3 H373 V156"/><use href="#xx" class="xr" x="373" y="250.7"/>
<path class="gry" d="M134.5,100 V138"/><use href="#xx" class="xg" x="134.5" y="138"/>
</g>
</g>

<!-- STEP 8 -->
<g id="step8" transform="translate(406.5,812)">
<rect class="pn" x="9.5" y="9" width="389.5" height="388.5"/>
<text class="st" x="21.5" y="33">Step 8</text>
<g id="s8-n4"><rect class="bx" x="102.5" y="25.5" width="63" height="55" rx="14"/><text class="nl" x="134" y="50.5">N4</text>
<rect class="pw" x="110.75" y="60.5" width="12.5" height="39.5" rx="6.25"/><text class="pt" transform="translate(117,80.25) rotate(-90)" y="3.6">ETH</text>
<rect class="pg" x="128.25" y="60.5" width="12.5" height="39.5" rx="6.25"/><text class="pt" transform="translate(134.5,80.25) rotate(-90)" y="3.6">WLAN</text>
<rect class="pp" x="145.75" y="60.5" width="12.5" height="39.5" rx="6.25"/><text class="pt" transform="translate(152,80.25) rotate(-90)" y="3.6">PLC</text></g>
<g id="s8-n1"><rect class="bx" x="319.5" y="81.5" width="62" height="51" rx="14"/><text class="nl" x="350.5" y="106.5">N1</text>
<rect class="pp" x="323.05" y="116.5" width="12.5" height="39.5" rx="6.25"/><text class="pt" transform="translate(329.3,136.25) rotate(-90)" y="3.6">PLC</text>
<rect class="pw" x="338.25" y="116.5" width="12.5" height="39.5" rx="6.25"/><text class="pt" transform="translate(344.5,136.25) rotate(-90)" y="3.6">WLAN</text>
<rect class="pw" x="352.55" y="116.5" width="12.5" height="39.5" rx="6.25"/><text class="pt" transform="translate(358.8,136.25) rotate(-90)" y="3.6">ETH</text>
<rect class="pp" x="366.75" y="116.5" width="12.5" height="39.5" rx="6.25"/><text class="pt" transform="translate(373,136.25) rotate(-90)" y="3.6">mmW</text></g>
<g id="s8-n5"><rect class="bx" x="171" y="159" width="62" height="56" rx="14"/><text class="nl" x="202" y="185">N5</text>
<rect class="pw" x="188.05" y="195.5" width="12.5" height="39.5" rx="6.25"/><text class="pt" transform="translate(194.3,215.25) rotate(-90)" y="3.6">ETH</text>
<rect class="pw" x="205.25" y="195.5" width="12.5" height="39.5" rx="6.25"/><text class="pt" transform="translate(211.5,215.25) rotate(-90)" y="3.6">WLAN</text></g>
<g id="s8-n3"><rect class="bx" x="54.5" y="246" width="63" height="55" rx="14"/><text class="nl" x="86" y="271">N3</text>
<rect class="pw" x="62.75" y="280.5" width="12.5" height="39.5" rx="6.25"/><text class="pt" transform="translate(69,300.25) rotate(-90)" y="3.6">ETH</text>
<rect class="pw" x="80.05" y="280.5" width="12.5" height="39.5" rx="6.25"/><text class="pt" transform="translate(86.3,300.25) rotate(-90)" y="3.6">ETH</text>
<rect class="pw" x="97.45" y="280.5" width="12.5" height="39.5" rx="6.25"/><text class="pt" transform="translate(103.7,300.25) rotate(-90)" y="3.6">ETH</text></g>
<g id="s8-n2"><rect class="bx" x="290.5" y="273" width="63" height="56" rx="14"/><text class="nl" x="322" y="298">N2</text>
<rect class="pw" x="299.75" y="307.5" width="12.5" height="39.5" rx="6.25"/><text class="pt" transform="translate(306,327.25) rotate(-90)" y="3.6">ETH</text>
<rect class="pp" x="315.75" y="307.5" width="12.5" height="39.5" rx="6.25"/><text class="pt" transform="translate(322,327.25) rotate(-90)" y="3.6">mmW</text>
<rect class="pw" x="332.05" y="307.5" width="12.5" height="39.5" rx="6.25"/><text class="pt" transform="translate(338.3,327.25) rotate(-90)" y="3.6">ETH</text></g>
<g id="s8-links">
<path class="dot" d="M117,100 V122 H26.7 V341.7 H69 V320"/>
<path class="red" d="M152,100 V122 H280 V172.7 H329.3 V156"/><use href="#xx" class="xr" x="238.3" y="122"/>
<path class="blu" d="M103.7,320 V341.7 H194.3 V235" marker-end="url(#ab)"/>
<path class="blu" d="M194.3,195.5 V188.3 H211.5 V195.5" marker-end="url(#as)"/>
<path class="blu" d="M211.5,235 V257.3 H280 V190 H344.5 V156" marker-end="url(#ab)"/>
<path class="dot" d="M86.3,320 V367.7 H306 V347"/>
<path class="dot" d="M338.3,347 V367.7 H358.8 V156"/>
<path class="red" d="M322,347 V384.3 H373 V156"/><use href="#xx" class="xr" x="373" y="250.7"/>
<path class="gry" d="M134.5,100 V138"/><use href="#xx" class="xg" x="134.5" y="138"/>
</g>
</g>

<!-- STEP 9 -->
<g id="step9" transform="translate(813,812)">
<rect class="pn" x="9.5" y="9" width="389.5" height="388.5"/>
<text class="st" x="21.5" y="33">Step 9</text>
<g id="s9-n4"><rect class="bx" x="102.5" y="25.5" width="63" height="55" rx="14"/><text class="nl" x="134" y="50.5">N4</text>
<rect class="pw" x="110.75" y="60.5" width="12.5" height="39.5" rx="6.25"/><text class="pt" transform="translate(117,80.25) rotate(-90)" y="3.6">ETH</text>
<rect class="pg" x="128.25" y="60.5" width="12.5" height="39.5" rx="6.25"/><text class="pt" transform="translate(134.5,80.25) rotate(-90)" y="3.6">WLAN</text>
<rect class="pp" x="145.75" y="60.5" width="12.5" height="39.5" rx="6.25"/><text class="pt" transform="translate(152,80.25) rotate(-90)" y="3.6">PLC</text></g>
<g id="s9-n1"><rect class="bx" x="319.5" y="81.5" width="62" height="51" rx="14"/><text class="nl" x="350.5" y="106.5">N1</text>
<rect class="pp" x="323.05" y="116.5" width="12.5" height="39.5" rx="6.25"/><text class="pt" transform="translate(329.3,136.25) rotate(-90)" y="3.6">PLC</text>
<rect class="pw" x="338.25" y="116.5" width="12.5" height="39.5" rx="6.25"/><text class="pt" transform="translate(344.5,136.25) rotate(-90)" y="3.6">WLAN</text>
<rect class="pw" x="352.55" y="116.5" width="12.5" height="39.5" rx="6.25"/><text class="pt" transform="translate(358.8,136.25) rotate(-90)" y="3.6">ETH</text>
<rect class="pp" x="366.75" y="116.5" width="12.5" height="39.5" rx="6.25"/><text class="pt" transform="translate(373,136.25) rotate(-90)" y="3.6">mmW</text></g>
<g id="s9-n5"><rect class="bx" x="171" y="159" width="62" height="56" rx="14"/><text class="nl" x="202" y="185">N5</text>
<rect class="pw" x="188.05" y="195.5" width="12.5" height="39.5" rx="6.25"/><text class="pt" transform="translate(194.3,215.25) rotate(-90)" y="3.6">ETH</text>
<rect class="pw" x="205.25" y="195.5" width="12.5" height="39.5" rx="6.25"/><text class="pt" transform="translate(211.5,215.25) rotate(-90)" y="3.6">WLAN</text></g>
<g id="s9-n3"><rect class="bx" x="54.5" y="246" width="63" height="55" rx="14"/><text class="nl" x="86" y="271">N3</text>
<rect class="pw" x="62.75" y="280.5" width="12.5" height="39.5" rx="6.25"/><text class="pt" transform="translate(69,300.25) rotate(-90)" y="3.6">ETH</text>
<rect class="pw" x="80.05" y="280.5" width="12.5" height="39.5" rx="6.25"/><text class="pt" transform="translate(86.3,300.25) rotate(-90)" y="3.6">ETH</text>
<rect class="pw" x="97.45" y="280.5" width="12.5" height="39.5" rx="6.25"/><text class="pt" transform="translate(103.7,300.25) rotate(-90)" y="3.6">ETH</text></g>
<g id="s9-n2"><rect class="bx" x="290.5" y="273" width="63" height="56" rx="14"/><text class="nl" x="322" y="298">N2</text>
<rect class="pw" x="299.75" y="307.5" width="12.5" height="39.5" rx="6.25"/><text class="pt" transform="translate(306,327.25) rotate(-90)" y="3.6">ETH</text>
<rect class="pp" x="315.75" y="307.5" width="12.5" height="39.5" rx="6.25"/><text class="pt" transform="translate(322,327.25) rotate(-90)" y="3.6">mmW</text>
<rect class="pw" x="332.05" y="307.5" width="12.5" height="39.5" rx="6.25"/><text class="pt" transform="translate(338.3,327.25) rotate(-90)" y="3.6">ETH</text></g>
<g id="s9-links">
<path class="dot" d="M117,100 V122 H26.7 V341.7 H69 V320"/>
<path class="red" d="M152,100 V122 H280 V172.7 H329.3 V156"/><use href="#xx" class="xr" x="238.3" y="122"/>
<path class="dot" d="M103.7,320 V341.7 H194.3 V235"/>
<path class="dot" d="M211.5,235 V257.3 H280 V190 H344.5 V156"/>
<path class="blu" d="M86.3,320 V367.7 H306 V347" marker-end="url(#ab)"/>
<path class="blu" d="M306,307.5 V301.7 H338.3 V307.5" marker-end="url(#as)"/>
<path class="blu" d="M338.3,347 V367.7 H358.8 V156" marker-end="url(#ab)"/>
<path class="red" d="M322,347 V384.3 H373 V156"/><use href="#xx" class="xr" x="373" y="250.7"/>
<path class="gry" d="M134.5,100 V138"/><use href="#xx" class="xg" x="134.5" y="138"/>
</g>
</g>

<!-- LEGEND -->
<g id="legend">
<rect class="lg" x="9.5" y="1228" width="1210" height="80"/>
<text x="22" y="1252" style="font:bold 20px 'Liberation Sans',Arial,sans-serif">Legend</text>
<rect x="123" y="1242" width="72" height="14" rx="7" fill="#fff" class="lp"/><text class="lb" x="159" y="1253">Interface</text>
<text class="lt" x="209" y="1253">Interface up</text>
<rect x="123" y="1268" width="72" height="14" rx="7" fill="#C0C0C0" class="lp"/><text class="lb" x="159" y="1279">Interface</text>
<text class="lt" x="209" y="1279">Interface down</text>
<rect x="314" y="1242" width="73" height="14" rx="7" fill="#D99594" class="lp"/><text class="lb" x="350.5" y="1253">Interface</text>
<text class="lt" x="399" y="1253">Medium not available</text>
<path class="dot" d="M547,1248 H590"/>
<text class="lt" x="597" y="1253">Exchange of probe frames</text>
<path class="blu" d="M547,1280 H588" marker-end="url(#ab)"/>
<text class="lt" x="597" y="1285">Link (user data)</text>
<path class="red" d="M771,1248 H812"/><use href="#xx" class="xr" x="791" y="1248"/>
<text class="lt" x="826" y="1253">Link down (e.g. failure)</text>
<path class="gry" d="M771,1280 H812"/><use href="#xx" class="xg" x="812" y="1280"/>
<text class="lt" x="826" y="1284">Link inactive</text>
<text class="lt" x="990" y="1247">ETH:</text><text class="lt" x="1041" y="1247">Gigabit Ethernet</text>
<text class="lt" x="990" y="1261">PLC:</text><text class="lt" x="1041" y="1261">Powerline Communication</text>
<text class="lt" x="990" y="1276">WLAN:</text><text class="lt" x="1041" y="1276">Wireless LAN</text>
<text class="lt" x="990" y="1290">mmW:</text><text class="lt" x="1041" y="1290">mmWave (60 GHz radio)</text>
</g>
</svg>
